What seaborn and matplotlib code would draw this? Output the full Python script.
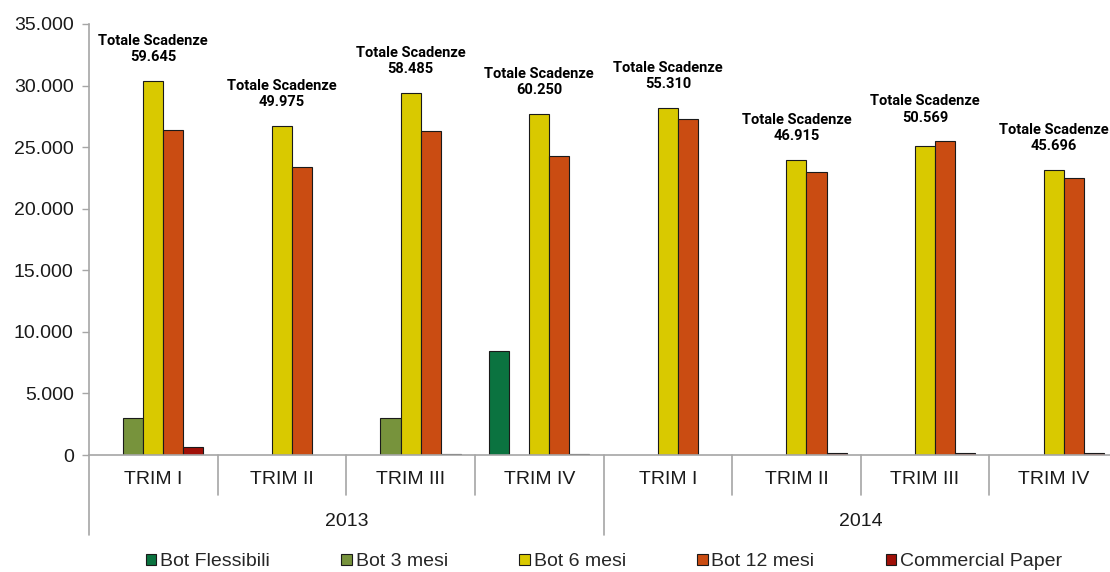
import numpy as np
import pandas as pd
import matplotlib
matplotlib.use("Agg")
import matplotlib.pyplot as plt
import matplotlib.transforms as mtransforms
from matplotlib.ticker import FuncFormatter, MultipleLocator
import seaborn as sns

# ---- data (milioni di euro) ----
years = ["2013", "2014"]
quarters = ["TRIM I", "TRIM II", "TRIM III", "TRIM IV"]
series = ["Bot Flessibili", "Bot 3 mesi", "Bot 6 mesi", "Bot 12 mesi", "Commercial Paper"]

bot_flessibili = [None, None, None, 8470, None, None, None, None]
bot_3_mesi = [3000, None, 3000, None, None, None, None, None]
bot_6_mesi = [30400, 26750, 29400, 27700, 28200, 23990, 25130, 23180]
bot_12_mesi = [26400, 23370, 26300, 24260, 27260, 22960, 25480, 22500]
commercial_paper = [670, None, 60, 120, None, 130, 150, 160]

totali = ["59.645", "49.975", "58.485", "60.250", "55.310", "46.915", "50.569", "45.696"]

colors = ["#0B7340", "#77933C", "#D9C900", "#CA4C12", "#A01008"]

periods = [f"{y} {q}" for y in years for q in quarters]
values = [bot_flessibili, bot_3_mesi, bot_6_mesi, bot_12_mesi, commercial_paper]

rows = []
for name, vals in zip(series, values):
    for p, v in zip(periods, vals):
        if v is not None:
            rows.append({"periodo": p, "serie": name, "valore": v})
df = pd.DataFrame(rows)

# ---- figure ----
sns.set_theme(style="white")
plt.rcParams["font.family"] = ["Liberation Sans", "DejaVu Sans"]

W, H = 1110, 572
fig = plt.figure(figsize=(W / 100, H / 100), dpi=100)
x0, x1, y0, y1 = 89, 1118, 455, 24
ax = fig.add_axes([x0 / W, (H - y0) / H, (x1 - x0) / W, (y0 - y1) / H])

sns.barplot(
    data=df, x="periodo", y="valore", hue="serie",
    order=periods, hue_order=series, palette=colors,
    saturation=1, width=0.78, edgecolor="#1a1a1a", linewidth=0.8,
    errorbar=None, legend=True, ax=ax,
)

grey = "#A6A6A6"
fs = 14
ax.set_xlim(-0.5, len(periods) - 0.5)
ax.set_ylim(0, 35000)
ax.yaxis.set_major_locator(MultipleLocator(5000))
ax.yaxis.set_major_formatter(FuncFormatter(lambda v, _: f"{int(v):,}".replace(",", ".")))
ax.tick_params(axis="y", which="major", left=True, length=5, width=1, color=grey,
               labelsize=fs, labelcolor="#1a1a1a", pad=6)
ax.set_xticks([])
ax.set_xlabel("")
ax.set_ylabel("")
for s in ["top", "right"]:
    ax.spines[s].set_visible(False)
for s in ["left", "bottom"]:
    ax.spines[s].set_color(grey)
    ax.spines[s].set_linewidth(1.2)

# ---- two-level category axis ----
trans = mtransforms.blended_transform_factory(ax.transData, ax.transAxes)
axh = y0 - y1
short_end = -(495 - y0) / axh
long_end = -(535 - y0) / axh
for k in range(len(periods) + 1):
    xpos = k - 0.5
    end = long_end if k % len(quarters) == 0 else short_end
    ax.plot([xpos, xpos], [0, end], color=grey, lw=1.2, transform=trans, clip_on=False)

for i, p in enumerate(periods):
    ax.text(i, -(480 - y0) / axh, quarters[i % len(quarters)], transform=trans,
            ha="center", va="center", fontsize=fs, color="#1a1a1a")
for j, y in enumerate(years):
    xc = j * len(quarters) + (len(quarters) - 1) / 2
    ax.text(xc, -(521 - y0) / axh, y, transform=trans,
            ha="center", va="center", fontsize=fs, color="#1a1a1a")

# ---- totals above each quarter ----
for i, tot in enumerate(totali):
    top = max(v[i] for v in values if v[i] is not None)
    ax.annotate(f"Totale Scadenze\n{tot}", xy=(i, top), xytext=(0, 12),
                textcoords="offset points", ha="center", va="bottom",
                fontsize=10.5, fontweight="bold", linespacing=1.2,
                family=["Roboto", "DejaVu Sans"], color="black",
                annotation_clip=False)

# ---- legend ----
handles, labels = ax.get_legend_handles_labels()
ax.legend_.remove()
fig.legend(handles, labels, loc="center", bbox_to_anchor=(604 / W, 10 / H),
           ncol=5, frameon=False, fontsize=fs, handlelength=0.55, handleheight=0.55,
           handletextpad=0.2, columnspacing=3.65, borderaxespad=0)

fig.savefig("out.png", dpi=100)
